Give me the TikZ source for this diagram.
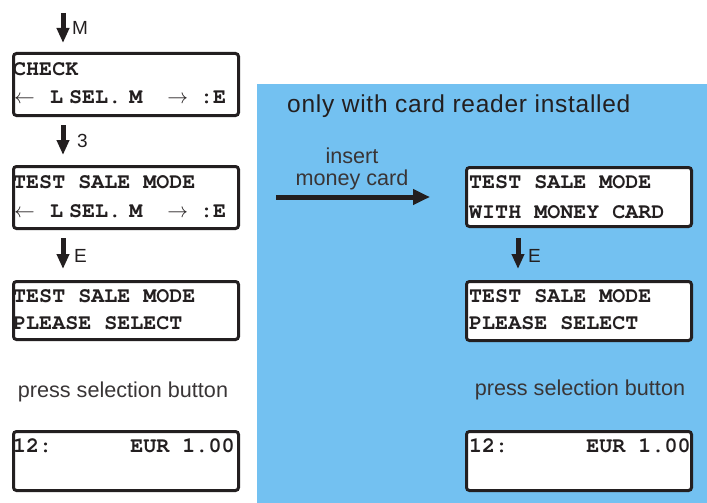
\documentclass[tikz,border=0pt]{standalone}
\usepackage{fontspec}
\setmainfont{Liberation Sans}
\newfontfamily\lcdfont{TeX Gyre Cursor}
\usetikzlibrary{arrows.meta}
\definecolor{panelblue}{RGB}{115,193,241}
\definecolor{ink}{RGB}{35,31,32}
\tikzset{
  lcd/.style={draw=ink, line width=3pt, rounded corners=3pt, fill=white,
    anchor=north west, inner sep=0pt, outer sep=0pt},
  lcdtext/.style={anchor=base west, inner sep=0pt, text=ink,
    font=\lcdfont\bfseries\fontsize{21.7}{22}\selectfont},
  keyarrow/.style={line width=5pt, draw=ink, -{Triangle[length=15pt,width=12pt]}},
  keylabel/.style={anchor=base west, inner sep=0pt, text=ink,
    font=\fontsize{19}{20}\selectfont},
  note/.style={anchor=base, inner sep=0pt, text=ink!90,
    font=\fontsize{21.6}{22}\selectfont},
}
% second display line: arrows and key letters
\newcommand{\lcdnav}{\makebox[36pt][l]{$\leftarrow$}L\hspace{6pt}SEL.\hspace{8pt}M\hspace{25pt}$\rightarrow$\hspace{12pt}:E}
\begin{document}
\begin{tikzpicture}[x=1pt, y=-1pt]
  \useasboundingbox (0,0) rectangle (707,503);
  % card reader panel
  \fill[panelblue] (257,84) rectangle (707,503);
  \node[anchor=base west, inner sep=0pt, text=ink,
        font=\addfontfeature{LetterSpace=3}\fontsize{24.5}{26}\selectfont]
        (title) at (287,112) {only with card reader installed};

  % left column displays
  \node[lcd, minimum width=225, minimum height=62] (b1) at (13.5,53.5) {};
  \node[lcd, minimum width=225, minimum height=62] (b2) at (13.5,166.5) {};
  \node[lcd, minimum width=225, minimum height=58] (b3) at (13.5,281.5) {};
  \node[lcd, minimum width=225, minimum height=59] (b4) at (13.5,431.5) {};

  \node[lcdtext] (b1a) at (13,75) {CHECK};
  \node[lcdtext] (b1b) at (14,103) {\lcdnav};
  \node[lcdtext] (b2a) at (13,188) {TEST SALE MODE};
  \node[lcdtext] (b2b) at (14,217) {\lcdnav};
  \node[lcdtext] (b3a) at (13,302) {TEST SALE MODE};
  \node[lcdtext] (b3b) at (13,329) {PLEASE SELECT};
  \node[lcdtext] (b4a) at (13,452) {\makebox[117.2pt][l]{12:}EUR 1.00};

  % right column displays
  \node[lcd, minimum width=225, minimum height=59] (r1) at (466.5,167.5) {};
  \node[lcd, minimum width=225, minimum height=59] (r2) at (466.5,281.5) {};
  \node[lcd, minimum width=225, minimum height=59] (r3) at (466.5,431.5) {};

  \node[lcdtext] (r1a) at (469,188) {TEST SALE MODE};
  \node[lcdtext] (r1b) at (469,218) {WITH MONEY CARD};
  \node[lcdtext] (r2a) at (469,302) {TEST SALE MODE};
  \node[lcdtext] (r2b) at (469,329) {PLEASE SELECT};
  \node[lcdtext] (r3a) at (469,452) {\makebox[117.2pt][l]{12:}EUR 1.00};

  % key presses
  \coordinate (mtop) at (63,13);
  \coordinate (rcol) at (518,0);
  \draw[keyarrow, shorten >=10.5pt] (mtop) -- (mtop |- b1.north);
  \draw[keyarrow, shorten <=9.5pt, shorten >=11.5pt] (b1.south -| mtop) -- (b2.north -| mtop);
  \draw[keyarrow, shorten <=9.5pt, shorten >=12.5pt] (b2.south -| mtop) -- (b3.north -| mtop);
  \draw[keyarrow, shorten <=11.5pt, shorten >=12.5pt] (r1.south -| rcol) -- (r2.north -| rcol);

  \node[keylabel] (km) at (72,35) {M};
  \node[keylabel] (k3) at (77,147) {3};
  \node[keylabel] (ke1) at (74,262) {E};
  \node[keylabel] (ke2) at (528,262) {E};

  % money card insertion
  \coordinate (cardin) at (276,197);
  \draw[line width=5pt, draw=ink, -{Triangle[length=17pt,width=15pt]},
        shorten >=36.5pt] (cardin) -- (r1.west);
  \node[note] (ins1) at (352,163) {insert};
  \node[note] (ins2) at (352,185) {money card};

  % instructions
  \node[note] (p1) at (123,397) {press selection button};
  \node[note] (p2) at (580,395) {press selection button};
\end{tikzpicture}
\end{document}
